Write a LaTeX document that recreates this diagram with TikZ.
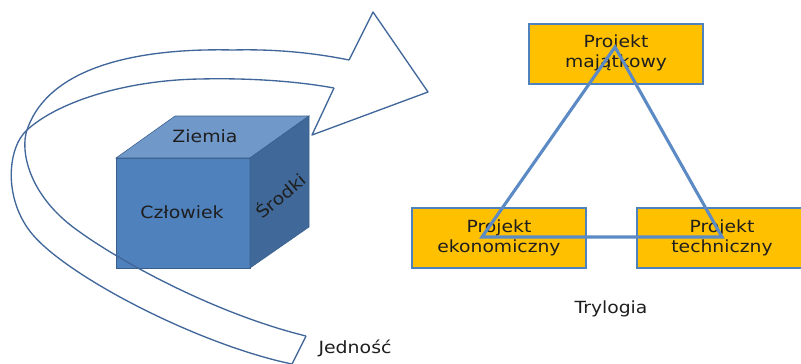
\documentclass[tikz,border=0pt]{standalone}
\usepackage{fontspec}
\setmainfont[FakeStretch=1.12]{DejaVu Sans}
\definecolor{arrowc}{HTML}{41679A}
\definecolor{cubefront}{HTML}{4F81BD}
\definecolor{cubetop}{HTML}{7098C8}
\definecolor{cuberight}{HTML}{40699A}
\definecolor{cubeedge}{HTML}{3A5F8D}
\definecolor{boxfill}{HTML}{FFC000}
\definecolor{boxedge}{HTML}{4F81BD}
\definecolor{tri}{HTML}{5B8AC4}
\definecolor{txt}{HTML}{1E1E1E}
\tikzset{
  projbox/.style={draw=boxedge, line width=0.9pt, fill=boxfill, minimum width=4.35cm, minimum height=1.5cm, inner sep=0pt},
  projtext/.style={text=txt, font=\fontsize{11.9}{14.2}\selectfont, align=center, inner sep=0pt},
  cubetext/.style={text=txt, font=\fontsize{12}{14}\selectfont, inner sep=0pt},
  arrowline/.style={draw=arrowc, line width=0.95pt, line join=round},
  triline/.style={draw=tri, line width=2.2pt, line join=miter}
}
\begin{document}
\begin{tikzpicture}[x=0.025cm, y=-0.025cm]
\useasboundingbox (0,0) rectangle (801,363);
% cube
\fill[cubefront, draw=cubeedge, line width=0.4pt] (116,158) -- (250,158) -- (250,268) -- (116,268) -- cycle;
\fill[cubetop, draw=cubeedge, line width=0.4pt] (116,158) -- (175,116) -- (309,116) -- (250,158) -- cycle;
\fill[cuberight, draw=cubeedge, line width=0.4pt] (250,158) -- (309,116) -- (309,227) -- (250,268) -- cycle;
\node[cubetext] (ziemia) at (205,136) {Ziemia};
\node[cubetext] (czlowiek) at (182,212) {Człowiek};
\node[cubetext, rotate=40] (srodki) at (280,195) {Środki};
% curved arrow (outline)
\draw[arrowline] (349,60) .. controls (310,52) and (270,49) .. (233,50)
  .. controls (150,48) and (50,62) .. (27,130)
  .. controls (20,150) and (28,195) .. (77,230)
  .. controls (125,265) and (220,315) .. (306,336);
\draw[arrowline] (334,88) .. controls (290,80) and (240,78) .. (200,79)
  .. controls (130,80) and (60,100) .. (27,130)
  .. controls (7,148) and (3,200) .. (33,235)
  .. controls (70,278) and (200,345) .. (292,364);
\draw[arrowline] (306,336) -- (292,364);
\draw[arrowline] (349,60) -- (373,12) -- (428,92) -- (312,135) -- (334,88);
\node[cubetext] (jednosc) at (355,348) {Jedność};
% projects
\node[projbox] (maj) at (616,54) {};
\node[projbox] (eko) at (499,238) {};
\node[projbox] (tech) at (724,238) {};
\node[projtext] at (616,53) {Projekt\\majątkowy};
\node[projtext] at (499,238) {Projekt\\ekonomiczny};
\node[projtext] at (722,238) {Projekt\\techniczny};
\coordinate (tA) at (615,47);
\coordinate (tB) at (482,237);
\coordinate (tC) at (722,237);
\draw[triline] (tA) -- (tB) -- (tC) -- cycle;
\node[projtext] (tryl) at (611,309) {Trylogia};
\end{tikzpicture}
\end{document}
